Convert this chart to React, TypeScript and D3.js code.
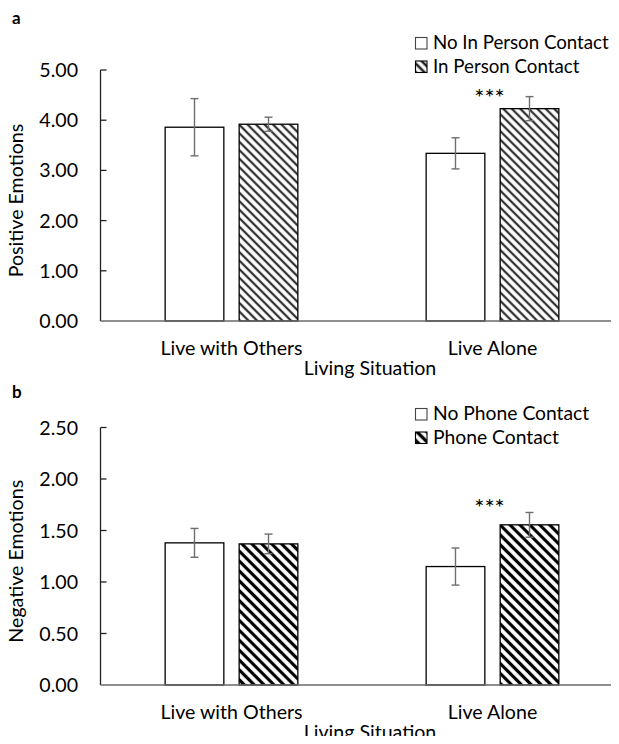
import React from "react";
import * as d3 from "d3";

const groups = ["Live with Others", "Live Alone"];
const seriesA = ["No In Person Contact", "In Person Contact"];
const seriesB = ["No Phone Contact", "Phone Contact"];

// Panel a: Positive Emotions
const aNoContact = [3.86, 3.34];
const aNoContactErr = [0.57, 0.31];
const aContact = [3.92, 4.23];
const aContactErr = [0.14, 0.24];
const aTicks = [0, 1, 2, 3, 4, 5];

// Panel b: Negative Emotions
const bNoContact = [1.38, 1.15];
const bNoContactErr = [0.14, 0.18];
const bContact = [1.37, 1.555];
const bContactErr = [0.095, 0.12];
const bTicks = [0, 0.5, 1, 1.5, 2, 2.5];

const FONT = "Lato, 'Noto Sans', sans-serif";
const W = 619;
const H = 744;
const FS = 19.6;

type PanelProps = {
  letter: string;
  top: number;
  bottom: number;
  yMax: number;
  ticks: number[];
  yTitle: string;
  series: string[];
  noVals: number[];
  noErr: number[];
  yesVals: number[];
  yesErr: number[];
  patternId: string;
  legendY: number;
  legendFs: number;
  starsY: number;
  letterY: number;
};

function Panel(p: PanelProps) {
  const y = d3.scaleLinear().domain([0, p.yMax]).range([p.bottom, p.top]);
  const x0 = d3.scaleBand<string>().domain(groups).range([101, 623]).padding(0);
  const groupW = 132.7;
  const x1 = d3
    .scaleBand<string>()
    .domain(p.series)
    .range([0, groupW])
    .paddingInner(0.207)
    .paddingOuter(0);
  const bw = x1.bandwidth();
  const axisX = 100.5;
  const bars: { g: string; s: string; v: number; e: number; hatched: boolean }[] = [];
  groups.forEach((g, i) => {
    bars.push({ g, s: p.series[0], v: p.noVals[i], e: p.noErr[i], hatched: false });
    bars.push({ g, s: p.series[1], v: p.yesVals[i], e: p.yesErr[i], hatched: true });
  });
  const gx = (g: string) => (x0(g) as number) + x0.bandwidth() / 2 - groupW / 2;
  const fmt = d3.format(".2f");
  const starBar = bars[3];
  const starX = gx(starBar.g) + (x1(starBar.s) as number) + bw / 2 - 40;
  const midY = (p.top + p.bottom) / 2;
  return (
    <g>
      <text x={12} y={p.letterY} fontFamily={FONT} fontWeight="bold" fontSize={17} fill="#000">
        {p.letter}
      </text>
      {/* bars */}
      {bars.map((b, i) => {
        const bx = gx(b.g) + (x1(b.s) as number);
        return (
          <rect
            key={"r" + i}
            x={bx}
            y={y(b.v)}
            width={bw}
            height={y(0) - y(b.v)}
            fill={b.hatched ? `url(#${p.patternId})` : "#fff"}
            stroke="#000"
            strokeWidth={1.3}
          />
        );
      })}
      {/* error bars */}
      {bars.map((b, i) => {
        const cx = gx(b.g) + (x1(b.s) as number) + bw / 2;
        return (
          <g key={"e" + i} stroke="#6e6e6e" strokeWidth={1.4}>
            <line x1={cx} x2={cx} y1={y(b.v + b.e)} y2={y(b.v - b.e)} />
            <line x1={cx - 4} x2={cx + 4} y1={y(b.v + b.e)} y2={y(b.v + b.e)} />
            <line x1={cx - 4} x2={cx + 4} y1={y(b.v - b.e)} y2={y(b.v - b.e)} />
          </g>
        );
      })}
      {/* y axis */}
      <line x1={axisX} x2={axisX} y1={y(p.yMax)} y2={y(0)} stroke="#222" strokeWidth={1.3} />
      {p.ticks.map((t) => (
        <g key={"t" + t}>
          {t > 0 && (
            <line x1={axisX} x2={axisX + 6} y1={y(t)} y2={y(t)} stroke="#222" strokeWidth={1.3} />
          )}
          <text
            x={78}
            y={y(t)}
            dy="0.36em"
            textAnchor="end"
            fontFamily={FONT}
            fontSize={FS}
            fill="#000"
          >
            {fmt(t)}
          </text>
        </g>
      ))}
      {/* x axis */}
      <line x1={axisX} x2={W} y1={y(0)} y2={y(0)} stroke="#6a6a6a" strokeWidth={1.6} />
      {groups.map((g) => (
        <text
          key={"g" + g}
          x={(x0(g) as number) + x0.bandwidth() / 2}
          y={y(0) + 34}
          textAnchor="middle"
          fontFamily={FONT}
          fontSize={FS}
          fill="#000"
        >
          {g}
        </text>
      ))}
      <text
        x={370}
        y={y(0) + 54}
        textAnchor="middle"
        fontFamily={FONT}
        fontSize={FS}
        fill="#000"
      >
        Living Situation
      </text>
      <text
        transform={`translate(23,${midY + 5}) rotate(-90)`}
        textAnchor="middle"
        fontFamily={FONT}
        fontSize={FS}
        fill="#000"
      >
        {p.yTitle}
      </text>
      {/* stars */}
      <text
        x={starX}
        y={p.starsY}
        textAnchor="middle"
        fontFamily={FONT}
        fontSize={24}
        fill="#000"
      >
        ***
      </text>
      {/* legend */}
      {p.series.map((s, i) => (
        <g key={"l" + s}>
          <rect
            x={415.5}
            y={p.legendY + i * 23.5 - 11.5}
            width={11.5}
            height={11.5}
            fill={i === 1 ? `url(#${p.patternId}L)` : "#fff"}
            stroke={i === 1 ? "#000" : "#444"}
            strokeWidth={1.1}
          />
          <text x={433} y={p.legendY + i * 23.5} fontFamily={FONT} fontSize={p.legendFs} fill="#000">
            {s}
          </text>
        </g>
      ))}
    </g>
  );
}

export default function App() {
  return (
    <svg width={W} height={H} viewBox={`0 0 ${W} ${H}`} style={{ display: "block", margin: "-8px" }}>
      <defs>
        <pattern id="hatchA" patternUnits="userSpaceOnUse" width={6} height={6} patternTransform="rotate(-45)">
          <rect width={6} height={6} fill="#fff" />
          <line x1={3} x2={3} y1={0} y2={6} stroke="#333" strokeWidth={2.3} />
        </pattern>
        <pattern id="hatchAL" patternUnits="userSpaceOnUse" width={6} height={6} patternTransform="rotate(-45)">
          <rect width={6} height={6} fill="#fff" />
          <line x1={3} x2={3} y1={0} y2={6} stroke="#222" strokeWidth={2.6} />
        </pattern>
        <pattern id="hatchB" patternUnits="userSpaceOnUse" width={7} height={7} patternTransform="rotate(-45)">
          <rect width={7} height={7} fill="#fff" />
          <line x1={3.5} x2={3.5} y1={0} y2={7} stroke="#000" strokeWidth={3.2} />
        </pattern>
        <pattern id="hatchBL" patternUnits="userSpaceOnUse" width={7} height={7} patternTransform="rotate(-45)">
          <rect width={7} height={7} fill="#fff" />
          <line x1={3.5} x2={3.5} y1={0} y2={7} stroke="#000" strokeWidth={3.4} />
        </pattern>
      </defs>
      <rect width={W} height={H} fill="#fff" />
      <Panel
        letter="a"
        top={70}
        bottom={321}
        yMax={5}
        ticks={aTicks}
        yTitle="Positive Emotions"
        series={seriesA}
        noVals={aNoContact}
        noErr={aNoContactErr}
        yesVals={aContact}
        yesErr={aContactErr}
        patternId="hatchA"
        legendY={49}
        legendFs={18.7}
        starsY={105.5}
        letterY={24}
      />
      <Panel
        letter="b"
        top={427.5}
        bottom={685}
        yMax={2.5}
        ticks={bTicks}
        yTitle="Negative Emotions"
        series={seriesB}
        noVals={bNoContact}
        noErr={bNoContactErr}
        yesVals={bContact}
        yesErr={bContactErr}
        patternId="hatchB"
        legendY={420}
        legendFs={19.3}
        starsY={516}
        letterY={398}
      />
    </svg>
  );
}
